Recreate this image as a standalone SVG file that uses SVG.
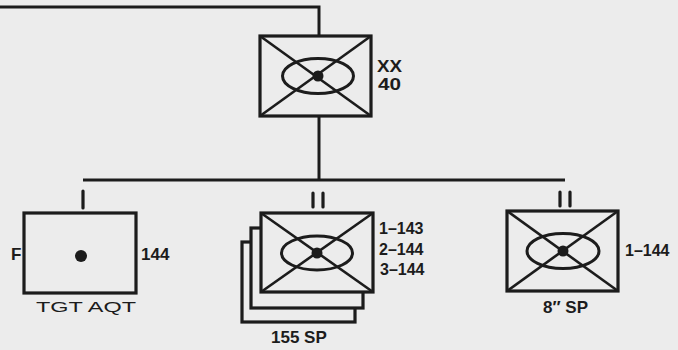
<svg xmlns="http://www.w3.org/2000/svg" width="678" height="350" viewBox="0 0 678 350">
<style>
.ln{stroke:#1c1c1c;stroke-width:3;fill:none}
.box{stroke:#1c1c1c;stroke-width:3.2;fill:#ececec}
.dg{stroke:#1c1c1c;stroke-width:2.6;fill:none}
.el{stroke:#1c1c1c;stroke-width:3;fill:none}
.dot{fill:#1c1c1c}
.t{font-family:"Liberation Sans",Arial,sans-serif;font-weight:bold;fill:#1c1c1c}
.tr{font-family:"Liberation Sans",Arial,sans-serif;fill:#1c1c1c}
.ech{stroke:#1c1c1c;stroke-width:3.2;stroke-linecap:round}
</style>
<rect width="678" height="350" fill="#ececec"/>
<g id="connectors">
<polyline class="ln" points="0,7 319,7 319,36"/>
<line class="ln" x1="319" y1="116" x2="319" y2="180"/>
<line class="ln" x1="83" y1="180" x2="565" y2="180"/>
</g>
<g id="division">
<rect class="box" x="260" y="36" width="111" height="80"/>
<line class="dg" x1="260" y1="36" x2="371" y2="116"/>
<line class="dg" x1="371" y1="36" x2="260" y2="116"/>
<ellipse class="el" cx="318" cy="76" rx="35.5" ry="17.5"/>
<circle class="dot" cx="318" cy="76" r="5.5"/>
<text class="tr" x="377" y="72" font-size="16" font-weight="600" textLength="25" lengthAdjust="spacingAndGlyphs">XX</text>
<text class="tr" x="378" y="90" font-size="16" font-weight="600" textLength="23" lengthAdjust="spacingAndGlyphs">40</text>
</g>
<g id="tgt-aqt">
<line class="ech" x1="83" y1="191" x2="83" y2="208"/>
<rect class="box" x="24" y="213" width="112" height="80"/>
<circle class="dot" cx="81" cy="256" r="6"/>
<text class="t" x="11" y="260" font-size="17">F</text>
<text class="t" x="141" y="260" font-size="17">144</text>
<text class="tr" x="36" y="312" font-size="15" textLength="100" lengthAdjust="spacingAndGlyphs">TGT AQT</text>
</g>
<g id="sp155">
<line class="ech" x1="313" y1="193" x2="313" y2="207"/>
<line class="ech" x1="323" y1="193" x2="323" y2="207"/>
<rect class="box" x="242" y="242" width="113" height="80"/>
<rect class="box" x="251" y="228" width="112" height="80"/>
<rect class="box" x="261" y="213" width="112" height="79"/>
<line class="dg" x1="261" y1="213" x2="373" y2="292"/>
<line class="dg" x1="373" y1="213" x2="261" y2="292"/>
<ellipse class="el" cx="317" cy="253" rx="35.5" ry="17"/>
<circle class="dot" cx="317" cy="253" r="5.5"/>
<text class="tr" x="379" y="234" font-size="16" font-weight="600">1–143</text>
<text class="tr" x="379" y="255" font-size="16" font-weight="600">2–144</text>
<text class="tr" x="380" y="275" font-size="16" font-weight="600">3–144</text>
<text class="tr" x="271" y="343" font-size="17" font-weight="600">155 SP</text>
</g>
<g id="sp8">
<line class="ech" x1="560" y1="192" x2="560" y2="206"/>
<line class="ech" x1="570" y1="192" x2="570" y2="206"/>
<rect class="box" x="507" y="211" width="111" height="80"/>
<line class="dg" x1="507" y1="211" x2="618" y2="291"/>
<line class="dg" x1="618" y1="211" x2="507" y2="291"/>
<ellipse class="el" cx="563" cy="251" rx="36" ry="17.5"/>
<circle class="dot" cx="563" cy="251" r="5.5"/>
<text class="tr" x="625" y="256" font-size="16" font-weight="600">1–144</text>
<text class="tr" x="543" y="313" font-size="17" font-weight="600">8″ SP</text>
</g>
</svg>
